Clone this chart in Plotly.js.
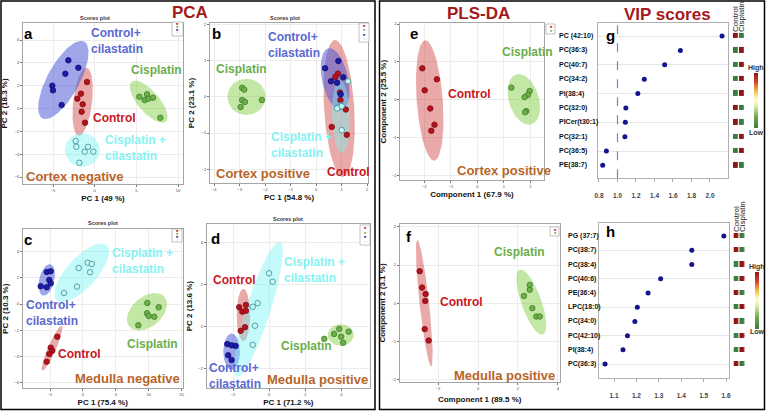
<!DOCTYPE html>
<html>
<head>
<meta charset="utf-8">
<script src="https://cdn.plot.ly/plotly-3.0.1.min.js"></script>
<style>
  html, body { margin: 0; padding: 0; background: #fff; }
  #plot { width: 766px; height: 411px; }
</style>
</head>
<body>
<div id="plot"></div>
<script>
// --- data ---------------------------------------------------------------

// a: PCA cortex negative
const aCtrlX = [-0.92, -1.64, -2.08, -1.44, -1.56, -1.16];
const aCtrlY = [2.32, 1.30, 0.86, 0.37, -0.28, -1.24];
const aCtrlCilX = [-3.16, -1.96, -3.52, -5.08, -5.0, -3.96];
const aCtrlCilY = [4.22, 3.57, 3.05, 2.0, 1.59, 0.31];
const aCisX = [5.36, 6.28, 6.0, 6.44, 7.0, 7.88];
const aCisY = [1.03, 1.24, 0.74, 0.86, 0.95, -0.81];
const aCisCilX = [-2.28, -2.2, -0.8, -1.2, -0.16, -1.84];
const aCisCilY = [-2.85, -3.35, -3.35, -3.78, -3.78, -4.75];

// b: PCA cortex positive
const bCtrlX = [0.85, 0.75, 0.93, 0.95, 1.16, 0.61, 1.2];
const bCtrlY = [0.64, 0.55, 0.12, -0.09, -0.35, -0.83, -1.05];
const bCtrlCilX = [0.87, 0.35, 0.58, 0.82, 1.06, 0.96];
const bCtrlCilY = [0.99, 0.79, 0.43, 0.39, 0.54, 0.07];
const bCisX = [-2.90, -2.82, -2.90, -2.79, -2.96, -2.13];
const bCisY = [0.25, 0.20, -0.09, -0.14, -0.28, -0.09];
const bCisCilX = [1.25, 0.96, 0.87, 1.0, 0.82, 1.0];
const bCisCilY = [0.43, -0.24, -0.29, -0.26, -0.32, -0.92];

// c: PCA medulla negative
const cCtrlX = [-3.89, -4.89, -4.65, -5.11, -5.50];
const cCtrlY = [-2.49, -3.32, -3.55, -3.80, -4.39];
const cCtrlCilX = [-5.50, -4.89, -5.11, -4.89, -5.50, -6.41];
const cCtrlCilY = [2.43, 2.49, 1.83, 1.57, 1.27, 1.35];
const cCisX = [9.79, 11.52, 9.74, 10.0, 10.85, 8.42];
const cCisY = [0.08, -0.25, -0.71, -0.91, -0.97, -1.62];
const cCisCilX = [-0.64, 0.73, 1.34, 1.08, -0.90, -2.87];
const cCisCilY = [2.74, 3.14, 3.04, 2.41, 1.32, 0.84];

// d: PCA medulla positive
const dCtrlX = [-1.66, -1.49, -1.29, -1.29, -1.34, -1.58];
const dCtrlY = [0.93, 0.72, 1.04, 0.76, -0.02, -0.19];
const dCtrlCilX = [-2.32, -2.08, -1.86, -2.27, -2.08];
const dCtrlCilY = [-0.82, -0.88, -0.91, -1.35, -1.58];
const dCisX = [3.88, 3.59, 3.98, 4.40, 4.09, 3.05];
const dCisY = [-0.10, -0.34, -0.47, -0.23, -0.76, -0.57];
const dCisCilX = [-0.01, 0.19, -0.64, -0.91, -0.79, -0.91];
const dCisCilY = [2.54, 2.14, 1.12, 0.95, 0.05, -0.86];

// e, f: PLS-DA
const eCtrlX = [-2.08, -1.53, -1.99, -1.78, -1.62, -1.74];
const eCtrlY = [0.83, 0.54, 0.25, -0.23, -0.66, -0.82];
const eCisX = [1.28, 1.97, 1.91, 1.78, 1.84, 1.80];
const eCisY = [0.32, 0.23, 0.13, 0.07, -0.30, -0.33];
const fCtrlX = [-2.92, -2.80, -2.62, -2.64, -2.67, -2.47];
const fCtrlY = [0.84, 0.41, 0.24, 0.06, -0.68, -0.98];
const fCisX = [2.59, 2.59, 2.30, 2.72, 2.92, 3.09];
const fCisY = [0.48, 0.35, 0.19, -0.13, -0.35, -0.35];

// confidence ellipses: [cx, cy, ax, ay, bx, by] (centre + two half-axis vectors)
const aEll = { ctrl: [-1.44, 0.60, 0.48, 2.98, 1.12, -0.1], ctrlCil: [-3.76, 2.50, 2.51, 3.36, 1.69, -0.67],
               cis: [6.48, 0.60, 2.04, -1.75, 0.98, 0.60], cisCil: [-1.48, -3.63, 2.1, 0, 0, 1.46] };
const bEll = { ctrl: [0.90, -0.32, -0.165, 1.89, 0.59, 0.025], ctrlCil: [0.74, 0.49, -0.26, 0.85, 0.50, 0.077],
               cis: [-2.73, 0, 0.75, 0, 0, 0.5], cisCil: [0.97, -0.55, -0.04, 1.01, 0.35, 0] };
const cEll = { ctrl: [-4.70, -3.37, 1.47, 1.70, 0.56, -0.12], ctrlCil: [-5.50, 1.83, 0.56, 1.19, 1.11, -0.13],
               cis: [9.74, -0.59, 2.67, 1.13, 1.46, -0.87], cisCil: [-0.18, 2.38, 3.80, 2.09, 1.69, -0.77] };
const dEll = { ctrl: [-1.43, 0.56, 0, 1.24, 0.37, 0], ctrlCil: [-2.08, -1.18, 0, 0.86, 0.46, 0],
               cis: [3.96, -0.39, 0.72, 0, 0, 0.51], cisCil: [-0.60, 0.83, 1.20, 3.21, 0.64, -0.18] };
const eEll = { ctrl: [-1.80, -0.02, -0.17, 1.59, 0.49, 0.02], cis: [1.75, 0.01, -0.29, 0.66, 0.54, 0.12] };
const fEll = { ctrl: [-2.69, 0, -0.35, 1.66, 0.235, 0.013], cis: [2.67, 0.03, -0.58, 0.85, 0.47, 0.09] };

// g, h: VIP scores (top to bottom)
const gLipids = ['PC (42:10)', 'PC(36:3)', 'PC(40:7)', 'PC(34:2)', 'PI(38:4)', 'PC(32:0)', 'PICer(t30:1)', 'PC(32:1)', 'PC(36:5)', 'PE(38:7)'];
const gVip = [2.13, 1.68, 1.51, 1.29, 1.22, 1.09, 1.085, 1.08, 0.88, 0.84];
const gHeat = [[1, 0], [0, 1], [0, 1], [0, 1], [0, 1], [1, 0], [1, 0], [0, 1], [0, 1], [1, 0]];
const hLipids = ['PG (37:7)', 'PC(38:7)', 'PC(38:4)', 'PC(40:6)', 'PE(36:4)', 'LPC(18:0)', 'PC(34:0)', 'PC(42:10)', 'PI(38:4)', 'PC(36:3)'];
const hVip = [1.59, 1.447, 1.447, 1.308, 1.252, 1.204, 1.193, 1.16, 1.14, 1.06];
const hHeat = [[1, 0], [1, 0], [0, 1], [0, 1], [1, 0], [0, 1], [1, 0], [0, 1], [0, 1], [1, 0]];
const heatCols = ['Control', 'Cisplatin'];

// --- helpers -------------------------------------------------------------
const W = 766, H = 411;
const FONT = 'Liberation Sans, Arial, sans-serif';
const X = (p) => p / W;
const Y = (p) => 1 - p / H;

const STY = {
  ctrl:    { fill: 'rgba(205,50,50,0.42)',  marker: '#b5121b', edge: '#7e0a10', text: '#c8161d' },
  ctrlCil: { fill: 'rgba(70,85,215,0.52)',  marker: '#1c1ca8', edge: '#0c0c6e', text: '#5a68d0' },
  cis:     { fill: 'rgba(111,200,44,0.42)', marker: '#6db04a', edge: '#3d7a25', text: '#6aae4c' },
  cisCil:  { fill: 'rgba(117,242,242,0.42)', marker: '#c9f7f7', edge: '#2f8f8f', text: '#86f2f2' },
};

function ellipse(e, key, xa, ya) {
  const [cx, cy, ax, ay, bx, by] = e;
  const x = [], y = [];
  for (let i = 0; i <= 80; i++) {
    const t = (2 * Math.PI * i) / 80;
    x.push(cx + ax * Math.cos(t) + bx * Math.sin(t));
    y.push(cy + ay * Math.cos(t) + by * Math.sin(t));
  }
  return { type: 'scatter', mode: 'lines', x, y, xaxis: xa, yaxis: ya, fill: 'toself',
           fillcolor: STY[key].fill, line: { width: 0, color: 'rgba(0,0,0,0)' }, hoverinfo: 'skip' };
}

function points(x, y, key, xa, ya) {
  return { type: 'scatter', mode: 'markers', x, y, xaxis: xa, yaxis: ya,
           marker: { size: 5.5, color: STY[key].marker, line: { width: 0.8, color: STY[key].edge } } };
}

// --- traces --------------------------------------------------------------
const traces = [];
const groups = [
  ['x', 'y', aEll, { ctrl: [aCtrlX, aCtrlY], ctrlCil: [aCtrlCilX, aCtrlCilY], cis: [aCisX, aCisY], cisCil: [aCisCilX, aCisCilY] }],
  ['x2', 'y2', bEll, { ctrl: [bCtrlX, bCtrlY], ctrlCil: [bCtrlCilX, bCtrlCilY], cis: [bCisX, bCisY], cisCil: [bCisCilX, bCisCilY] }],
  ['x3', 'y3', cEll, { ctrl: [cCtrlX, cCtrlY], ctrlCil: [cCtrlCilX, cCtrlCilY], cis: [cCisX, cCisY], cisCil: [cCisCilX, cCisCilY] }],
  ['x4', 'y4', dEll, { ctrl: [dCtrlX, dCtrlY], ctrlCil: [dCtrlCilX, dCtrlCilY], cis: [dCisX, dCisY], cisCil: [dCisCilX, dCisCilY] }],
  ['x5', 'y5', eEll, { ctrl: [eCtrlX, eCtrlY], cis: [eCisX, eCisY] }],
  ['x6', 'y6', fEll, { ctrl: [fCtrlX, fCtrlY], cis: [fCisX, fCisY] }],
];
const order = ['ctrl', 'ctrlCil', 'cisCil', 'cis'];
groups.forEach(([xa, ya, ells, pts]) => {
  order.forEach((k) => { if (ells[k]) traces.push(ellipse(ells[k], k, xa, ya)); });
  order.forEach((k) => { if (pts[k]) traces.push(points(pts[k][0], pts[k][1], k, xa, ya)); });
});

// VIP dots
traces.push({ type: 'scatter', mode: 'markers', x: gVip, y: gLipids, xaxis: 'x7', yaxis: 'y7',
              marker: { size: 5, color: '#14148c' } });
traces.push({ type: 'scatter', mode: 'markers', x: hVip, y: hLipids, xaxis: 'x8', yaxis: 'y8',
              marker: { size: 5, color: '#14148c' } });

// High/low heat squares next to the VIP plots
const GRAD = [[0, '#3d7a3d'], [0.2, '#6aa84f'], [0.42, '#e8f2b4'], [0.52, '#fffbd2'],
              [0.66, '#f2c84b'], [0.83, '#d9452b'], [1, '#8e1616']];
function heat(z, yCats, xa, ya, cbTop, cbBottom, cbLeft) {
  return { type: 'heatmap', z, x: heatCols, y: yCats, xaxis: xa, yaxis: ya, colorscale: GRAD,
           zmin: 0, zmax: 1, xgap: 1.2, ygap: 9, hoverinfo: 'skip',
           colorbar: { x: X(cbLeft), xanchor: 'left', xpad: 0, ypad: 0, y: Y((cbTop + cbBottom) / 2), yanchor: 'middle',
                       len: cbBottom - cbTop, lenmode: 'pixels', thickness: 4.3, outlinewidth: 0,
                       showticklabels: false, ticks: '' } };
}
traces.push(heat(gHeat, gLipids, 'x9', 'y7', 72.7, 127.7, 754));
traces.push(heat(hHeat, hLipids, 'x10', 'y8', 271.7, 328.3, 755));

// --- layout --------------------------------------------------------------
const layout = {
  width: W, height: H, margin: { l: 0, r: 0, t: 0, b: 0 },
  showlegend: false, paper_bgcolor: '#fff', plot_bgcolor: '#fff',
  font: { family: FONT, color: '#111' },
  annotations: [], shapes: [],
};

function scoreAxes(n, box, xr, xt, xTitle, yr, yt, yTitle, xStand, yStand) {
  const s = n === 1 ? '' : String(n);
  const common = { autorange: false, showgrid: true, gridcolor: '#ececec', zeroline: false, showline: true,
                   linecolor: '#a5a5a5', linewidth: 1, mirror: true, ticks: 'outside', ticklen: 2, tickcolor: '#777',
                   tickfont: { size: 4, color: '#444', family: FONT } };
  layout['xaxis' + s] = { ...common, anchor: 'y' + s, domain: [X(box[0]), X(box[1])], range: xr, tickvals: xt,
    title: { text: '<b>' + xTitle + '</b>', font: { size: 8, family: FONT, color: '#111' }, standoff: xStand } };
  layout['yaxis' + s] = { ...common, anchor: 'x' + s, domain: [Y(box[3]), Y(box[2])], range: yr, tickvals: yt,
    title: { text: '<b>' + yTitle + '</b>', font: { size: 8, family: FONT, color: '#111' }, standoff: yStand } };
}

scoreAxes(1, [23, 183, 23, 184], [-8.6, 10.6], [-5, 0, 5, 10], 'PC 1 (49 %)',
          [-6.61, 7.49], [-6, -4, -2, 0, 2, 4, 6], 'PC 2 (18.3 %)', 3, 5);
scoreAxes(2, [210, 368, 23, 183], [-4.16, 2.03], [-4, -3, -2, -1, 0, 1, 2], 'PC 1 (54.8 %)',
          [-2.38, 2.04], [-2, -1, 0, 1, 2], 'PC 2 (23.1 %)', 3, 5);
scoreAxes(3, [22.7, 182.7, 229.3, 388.3], [-9.15, 15.17], [-5, 0, 5, 10, 15], 'PC 1 (75.4 %)',
          [-6.41, 5.68], [-6, -4, -2, 0, 2, 4], 'PC 2 (10.3 %)', 3, 4);
scoreAxes(4, [206.7, 370, 224, 388.3], [-3.46, 5.58], [-2, 0, 2, 4], 'PC 1 (71.2 %)',
          [-2.92, 4.88], [-2, 0, 2, 4], 'PC 2 (13.6 %)', 3, 4);
scoreAxes(5, [400.3, 543.7, 23.3, 180], [-2.91, 2.5], [-2, -1, 0, 1, 2], 'Component 1 (67.9 %)',
          [-2.12, 2.02], [-2, -1, 0, 1, 2], 'Component 2 (25.5 %)', 3, 4);
scoreAxes(6, [399.7, 559.7, 224.3, 381.7], [-3.92, 4.09], [-2, 0, 2, 4], 'Component 1 (89.5 %)',
          [-2.06, 2.07], [-2, -1, 0, 1, 2], 'Component 2 (3.1 %)', 6, 4);

function vipAxes(n, box, xr, xt, cats, yr) {
  layout['xaxis' + n] = { anchor: 'y' + n, domain: [X(box[0]), X(box[1])], range: xr, tickvals: xt, tickformat: '.1f',
    showgrid: false, zeroline: false, showline: true, mirror: true, linecolor: '#b0b0b0', ticks: 'outside',
    ticklen: 3, tickcolor: '#aaa', ticklabelstandoff: 8,
    tickfont: { size: 6.5, color: '#444', family: FONT, weight: 'bold' } };
  layout['yaxis' + n] = { anchor: 'x' + n, domain: [Y(box[3]), Y(box[2])], type: 'category',
    categoryorder: 'array', categoryarray: cats, range: yr, showticklabels: false, ticks: '',
    showgrid: true, gridcolor: '#e6e6e6', zeroline: false, showline: true, mirror: true, linecolor: '#b0b0b0' };
}
vipAxes(7, [597.7, 728.3, 22.7, 178.3], [0.786, 2.198], [0.8, 1.0, 1.2, 1.4, 1.6, 1.8, 2.0], gLipids, [9.9, -0.93]);
vipAxes(8, [599, 729, 222.7, 378.3], [1.033, 1.613], [1.1, 1.2, 1.3, 1.4, 1.5, 1.6], hLipids, [10.0, -0.94]);

function heatXAxis(left, right, linePos) {
  return { domain: [X(left), X(right)], anchor: 'free', position: Y(linePos), side: 'top', type: 'category',
           tickmode: 'array', tickvals: heatCols, ticktext: heatCols, range: [-0.5, 1.5],
           tickangle: -90, ticks: '', showgrid: false, showline: false, zeroline: false,
           tickfont: { size: 8, color: '#222', family: FONT } };
}
layout.xaxis9 = heatXAxis(733, 744.5, 32);
layout.xaxis10 = heatXAxis(733.5, 745.5, 232);

// VIP = 1 cut-off line
layout.shapes.push({ type: 'line', xref: 'x7', yref: 'y7 domain', x0: 1, x1: 1, y0: 0, y1: 1,
                     line: { color: '#5b8fd4', width: 1.2, dash: 'dash' } });

// outer frames
layout.shapes.push({ type: 'rect', xref: 'paper', yref: 'paper', x0: X(1), x1: X(375), y0: Y(409.5), y1: Y(1),
                     line: { color: '#000', width: 1.5 } });
layout.shapes.push({ type: 'rect', xref: 'paper', yref: 'paper', x0: X(379.5), x1: X(764.5), y0: Y(409.5), y1: Y(1),
                     line: { color: '#000', width: 1.5 } });

// small legend boxes in the score plots
function legendBox(x0, y0, x1, y1, keys) {
  layout.shapes.push({ type: 'rect', xref: 'paper', yref: 'paper', x0: X(x0), x1: X(x1), y0: Y(y1), y1: Y(y0),
                       fillcolor: '#fff', line: { color: '#999', width: 0.6 } });
  const step = (y1 - y0 - 2) / keys.length;
  keys.forEach((k, i) => {
    layout.annotations.push({ xref: 'paper', yref: 'paper', x: X(x0 + 1.5), y: Y(y0 + 1 + step * (i + 0.5)),
      xanchor: 'left', yanchor: 'middle', showarrow: false,
      text: '<span style="color:' + STY[k].marker + '">■</span> <span style="color:#666">·</span>',
      font: { size: 3.5, family: FONT } });
  });
}
legendBox(172, 22, 183, 36, ['ctrl', 'cis', 'ctrlCil', 'cisCil']);
legendBox(359, 23, 369, 42, ['ctrl', 'cis', 'ctrlCil', 'cisCil']);
legendBox(172, 229, 182, 242, ['ctrl', 'cis', 'ctrlCil', 'cisCil']);
legendBox(360, 225, 370, 245, ['ctrl', 'cis', 'ctrlCil', 'cisCil']);
legendBox(546, 24, 555, 34, ['ctrl', 'cis']);
legendBox(550, 227, 559, 236, ['ctrl', 'cis']);

// text helpers
function note(text, x, y, opts) {
  layout.annotations.push(Object.assign({ xref: 'paper', yref: 'paper', x: X(x), y: Y(y), text,
    showarrow: false, xanchor: 'left', yanchor: 'middle', align: 'left',
    font: { family: FONT, size: 12, color: '#111' } }, opts || {}));
}
const grp = (k) => ({ font: { family: FONT, size: 12, color: STY[k].text } });
const region = { font: { family: FONT, size: 13, color: '#b8652a' } };
const head = { xanchor: 'center', font: { family: FONT, size: 17, color: '#a31a1a' } };
const letter = { xanchor: 'center', font: { family: FONT, size: 15, color: '#000' } };
const small = { xanchor: 'center', font: { family: FONT, size: 5.5, color: '#333' } };

note('<b>PCA</b>', 190, 13, head);
note('<b>PLS-DA</b>', 478, 14, head);
note('<b>VIP scores</b>', 667, 15, head);

note('<b>Scores plot</b>', 95, 18, small);
note('<b>Scores plot</b>', 285, 18.3, small);
note('<b>Scores plot</b>', 103, 223.3, small);
note('<b>Scores plot</b>', 288.3, 219, small);

[['a', 28.3, 33.3], ['b', 216.7, 33], ['c', 28.3, 239.3], ['d', 215, 238.3], ['e', 414, 33.3],
 ['f', 408.7, 236.7], ['g', 610, 35], ['h', 610, 231.7]].forEach(([t, x, y]) => note('<b>' + t + '</b>', x, y, letter));

// group labels
note('<b>Control+<br>cilastatin</b>', 89, 41, grp('ctrlCil'));
note('<b>Cisplatin</b>', 129.3, 70, grp('cis'));
note('<b>Control</b>', 90.7, 117.7, grp('ctrl'));
note('<b>Cisplatin +<br>cilastatin</b>', 103.3, 148, grp('cisCil'));
note('<b>Cortex negative</b>', 24, 176.7, region);

note('<b>Control+<br>cilastatin</b>', 266, 45, grp('ctrlCil'));
note('<b>Cisplatin</b>', 214.3, 69, grp('cis'));
note('<b>Cisplatin +<br>cilastatin</b>', 269.3, 145, grp('cisCil'));
note('<b>Control</b>', 325, 171.7, grp('ctrl'));
note('<b>Cortex positive</b>', 214.3, 174, region);

note('<b>Cisplatin +<br>cilastatin</b>', 110, 261.3, grp('cisCil'));
note('<b>Control+<br>cilastatin</b>', 24.3, 313, grp('ctrlCil'));
note('<b>Cisplatin</b>', 125, 344, grp('cis'));
note('<b>Control</b>', 56, 354, grp('ctrl'));
note('<b>Medulla negative</b>', 72.7, 378.3, region);

note('<b>Cisplatin +<br>cilastatin</b>', 281.7, 269.7, grp('cisCil'));
note('<b>Control</b>', 211, 280, grp('ctrl'));
note('<b>Cisplatin</b>', 279.3, 346, grp('cis'));
note('<b>Control+<br>cilastatin</b>', 206.7, 376, grp('ctrlCil'));
note('<b>Medulla positive</b>', 265, 379.3, region);

note('<b>Cisplatin</b>', 499.7, 52.3, grp('cis'));
note('<b>Control</b>', 446.3, 94, grp('ctrl'));
note('<b>Cortex positive</b>', 454.7, 170.7, region);

note('<b>Cisplatin</b>', 492.3, 252.3, grp('cis'));
note('<b>Control</b>', 438, 301.7, grp('ctrl'));
note('<b>Medulla positive</b>', 452, 375, region);

// lipid names left of the VIP plots
function lipidLabels(cats, ya, left) {
  cats.forEach((c) => layout.annotations.push({ xref: 'paper', yref: ya, x: X(left), y: c, text: '<b>' + c + '</b>',
    showarrow: false, xanchor: 'left', yanchor: 'middle', font: { family: FONT, size: 7, color: '#111' } }));
}
lipidLabels(gLipids, 'y7', 557);
lipidLabels(hLipids, 'y8', 566);

const hl = { xanchor: 'center', font: { family: FONT, size: 7, color: '#333' } };
note('<b>High</b>', 756, 68.3, hl);
note('<b>Low</b>', 756, 132.3, hl);
note('<b>High</b>', 757, 266.7, hl);
note('<b>Low</b>', 757, 331, hl);

Plotly.newPlot('plot', traces, layout, { displayModeBar: false, staticPlot: true });
</script>
</body>
</html>
